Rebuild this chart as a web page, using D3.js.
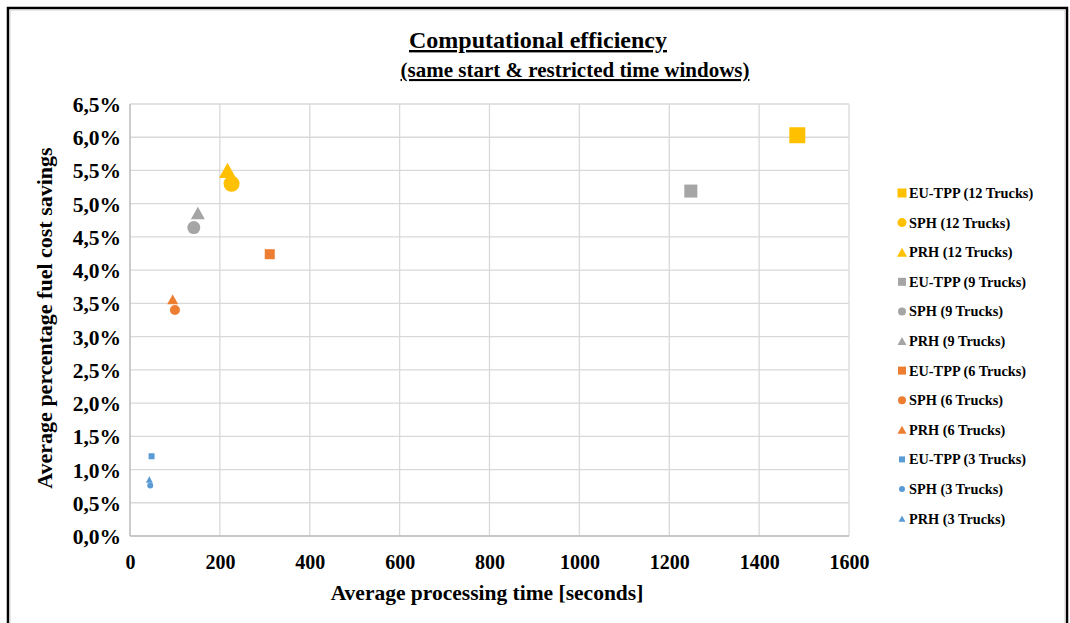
<!DOCTYPE html>
<html>
<head>
<meta charset="utf-8">
<script src="https://cdn.jsdelivr.net/npm/d3@7"></script>
<style>
  body { margin: 0; background: #fff; }
  text { font-family: "Liberation Serif", "Times New Roman", serif; font-weight: bold; fill: #000; }
</style>
</head>
<body>
<svg id="chart" width="1070" height="623"></svg>
<script>
// series: method x fleet size
var seriesNames = [
  'EU-TPP (12 Trucks)', 'SPH (12 Trucks)', 'PRH (12 Trucks)',
  'EU-TPP (9 Trucks)', 'SPH (9 Trucks)', 'PRH (9 Trucks)',
  'EU-TPP (6 Trucks)', 'SPH (6 Trucks)', 'PRH (6 Trucks)',
  'EU-TPP (3 Trucks)', 'SPH (3 Trucks)', 'PRH (3 Trucks)'
];
var seriesShapes = ['square', 'circle', 'triangle', 'square', 'circle', 'triangle',
                    'square', 'circle', 'triangle', 'square', 'circle', 'triangle'];
var seriesColors = ['#FFC000', '#FFC000', '#FFC000', '#A5A5A5', '#A5A5A5', '#A5A5A5',
                    '#ED7D31', '#ED7D31', '#ED7D31', '#5B9BD5', '#5B9BD5', '#5B9BD5'];
// processing time [s]
var timeValues = [1485, 226, 217, 1248, 142, 151, 311, 100, 95, 48, 45, 43];
// fuel saving [%]
var savingValues = [6.03, 5.30, 5.50, 5.19, 4.64, 4.86, 4.24, 3.40, 3.56, 1.20, 0.76, 0.85];
// marker sizes (px, point then legend)
var markerSizes = [16, 16, 17, 13, 13, 14, 10, 10, 11, 6, 6, 7];
var legendSizes = [9, 9, 10, 8, 8, 9, 8, 8, 9, 6, 6, 7];

var xTicks = [0, 200, 400, 600, 800, 1000, 1200, 1400, 1600];
var yTicks = d3.range(0, 14).map(function(i) { return i * 0.5; });

var svg = d3.select('#chart');

// outer frame
svg.append('rect').attr('x', 8).attr('y', 8).attr('width', 1059).attr('height', 640)
  .attr('fill', '#fff').attr('stroke', '#000').attr('stroke-width', 2.5);
svg.append('rect').attr('x', 10).attr('y', 10).attr('width', 1055).attr('height', 636)
  .attr('fill', 'none').attr('stroke', '#d0d0d0').attr('stroke-width', 1);

var plotL = 130, plotR = 849, plotT = 104, plotB = 536;

var x = d3.scaleLinear().domain([0, 1600]).range([plotL, plotR]);
var y = d3.scaleLinear().domain([0, 6.5]).range([plotB, plotT]);

// gridlines
svg.append('g').selectAll('line').data(xTicks).enter().append('line')
  .attr('x1', function(d) { return x(d); }).attr('x2', function(d) { return x(d); })
  .attr('y1', plotT).attr('y2', plotB)
  .attr('stroke', '#d9d9d9').attr('stroke-width', 1.3);
svg.append('g').selectAll('line').data(yTicks).enter().append('line')
  .attr('x1', plotL).attr('x2', plotR)
  .attr('y1', function(d) { return y(d); }).attr('y2', function(d) { return y(d); })
  .attr('stroke', '#d9d9d9').attr('stroke-width', 1.3);

// axes (labels only)
var fmtPct = function(d) { return d.toFixed(1).replace('.', ',') + '%'; };
var xAxis = svg.append('g').attr('transform', 'translate(0,' + plotB + ')')
  .call(d3.axisBottom(x).tickValues(xTicks).tickFormat(d3.format('d')).tickSize(0).tickPadding(19));
var yAxis = svg.append('g').attr('transform', 'translate(' + plotL + ',0)')
  .call(d3.axisLeft(y).tickValues(yTicks).tickFormat(fmtPct).tickSize(0).tickPadding(9));
[xAxis, yAxis].forEach(function(a) {
  a.select('.domain').remove();
  a.selectAll('text').style('font-family', '"Liberation Serif", serif')
    .style('font-weight', 'bold').style('font-size', '20px').attr('fill', '#000');
});
yAxis.selectAll('text').style('font-size', '21.5px');
xAxis.selectAll('text').attr('dy', '0.71em');
yAxis.selectAll('text').attr('dy', '0.35em');
svg.append('line').attr('x1', plotL).attr('x2', plotR).attr('y1', plotB).attr('y2', plotB)
  .attr('stroke', '#bfbfbf').attr('stroke-width', 1.3);
svg.append('line').attr('x1', plotL).attr('x2', plotL).attr('y1', plotT).attr('y2', plotB)
  .attr('stroke', '#bfbfbf').attr('stroke-width', 1.3);

// title
svg.append('text').attr('x', 538).attr('y', 48).attr('text-anchor', 'middle')
  .style('font-size', '24px').style('text-decoration', 'underline')
  .text('Computational efficiency');
svg.append('text').attr('x', 575).attr('y', 77).attr('text-anchor', 'middle')
  .style('font-size', '21px').style('text-decoration', 'underline')
  .text('(same start & restricted  time windows)');

// axis titles
svg.append('text').attr('x', 487).attr('y', 600).attr('text-anchor', 'middle')
  .style('font-size', '21.5px').text('Average processing time [seconds]');
svg.append('text').attr('transform', 'translate(52,318) rotate(-90)')
  .attr('text-anchor', 'middle').style('font-size', '22px')
  .text('Average percentage fuel cost savings');

function marker(sel, shape, size) {
  if (shape === 'square') {
    sel.append('rect').attr('x', -size / 2).attr('y', -size / 2)
      .attr('width', size).attr('height', size);
  } else if (shape === 'circle') {
    sel.append('circle').attr('r', size / 2);
  } else {
    var h = size * 0.9;
    sel.append('path').attr('d', 'M0,' + (-h / 2) + 'L' + (size / 2) + ',' + (h / 2) +
      'L' + (-size / 2) + ',' + (h / 2) + 'Z');
  }
}

var points = seriesNames.map(function(n, i) {
  return { name: n, shape: seriesShapes[i], color: seriesColors[i],
           t: timeValues[i], s: savingValues[i], size: markerSizes[i], lsize: legendSizes[i] };
});

svg.append('g').selectAll('g').data(points).enter().append('g')
  .attr('transform', function(d) { return 'translate(' + x(d.t) + ',' + y(d.s) + ')'; })
  .attr('fill', function(d) { return d.color; })
  .each(function(d) { marker(d3.select(this), d.shape, d.size); });

// legend
var legend = svg.append('g').selectAll('g').data(points).enter().append('g')
  .attr('transform', function(d, i) { return 'translate(902,' + (193 + i * 29.6) + ')'; });
legend.append('g').attr('fill', function(d) { return d.color; })
  .each(function(d) { marker(d3.select(this), d.shape, d.lsize); });
legend.append('text').attr('x', 7).attr('dy', '0.35em').style('font-size', '14.3px')
  .text(function(d) { return d.name; });
</script>
</body>
</html>
